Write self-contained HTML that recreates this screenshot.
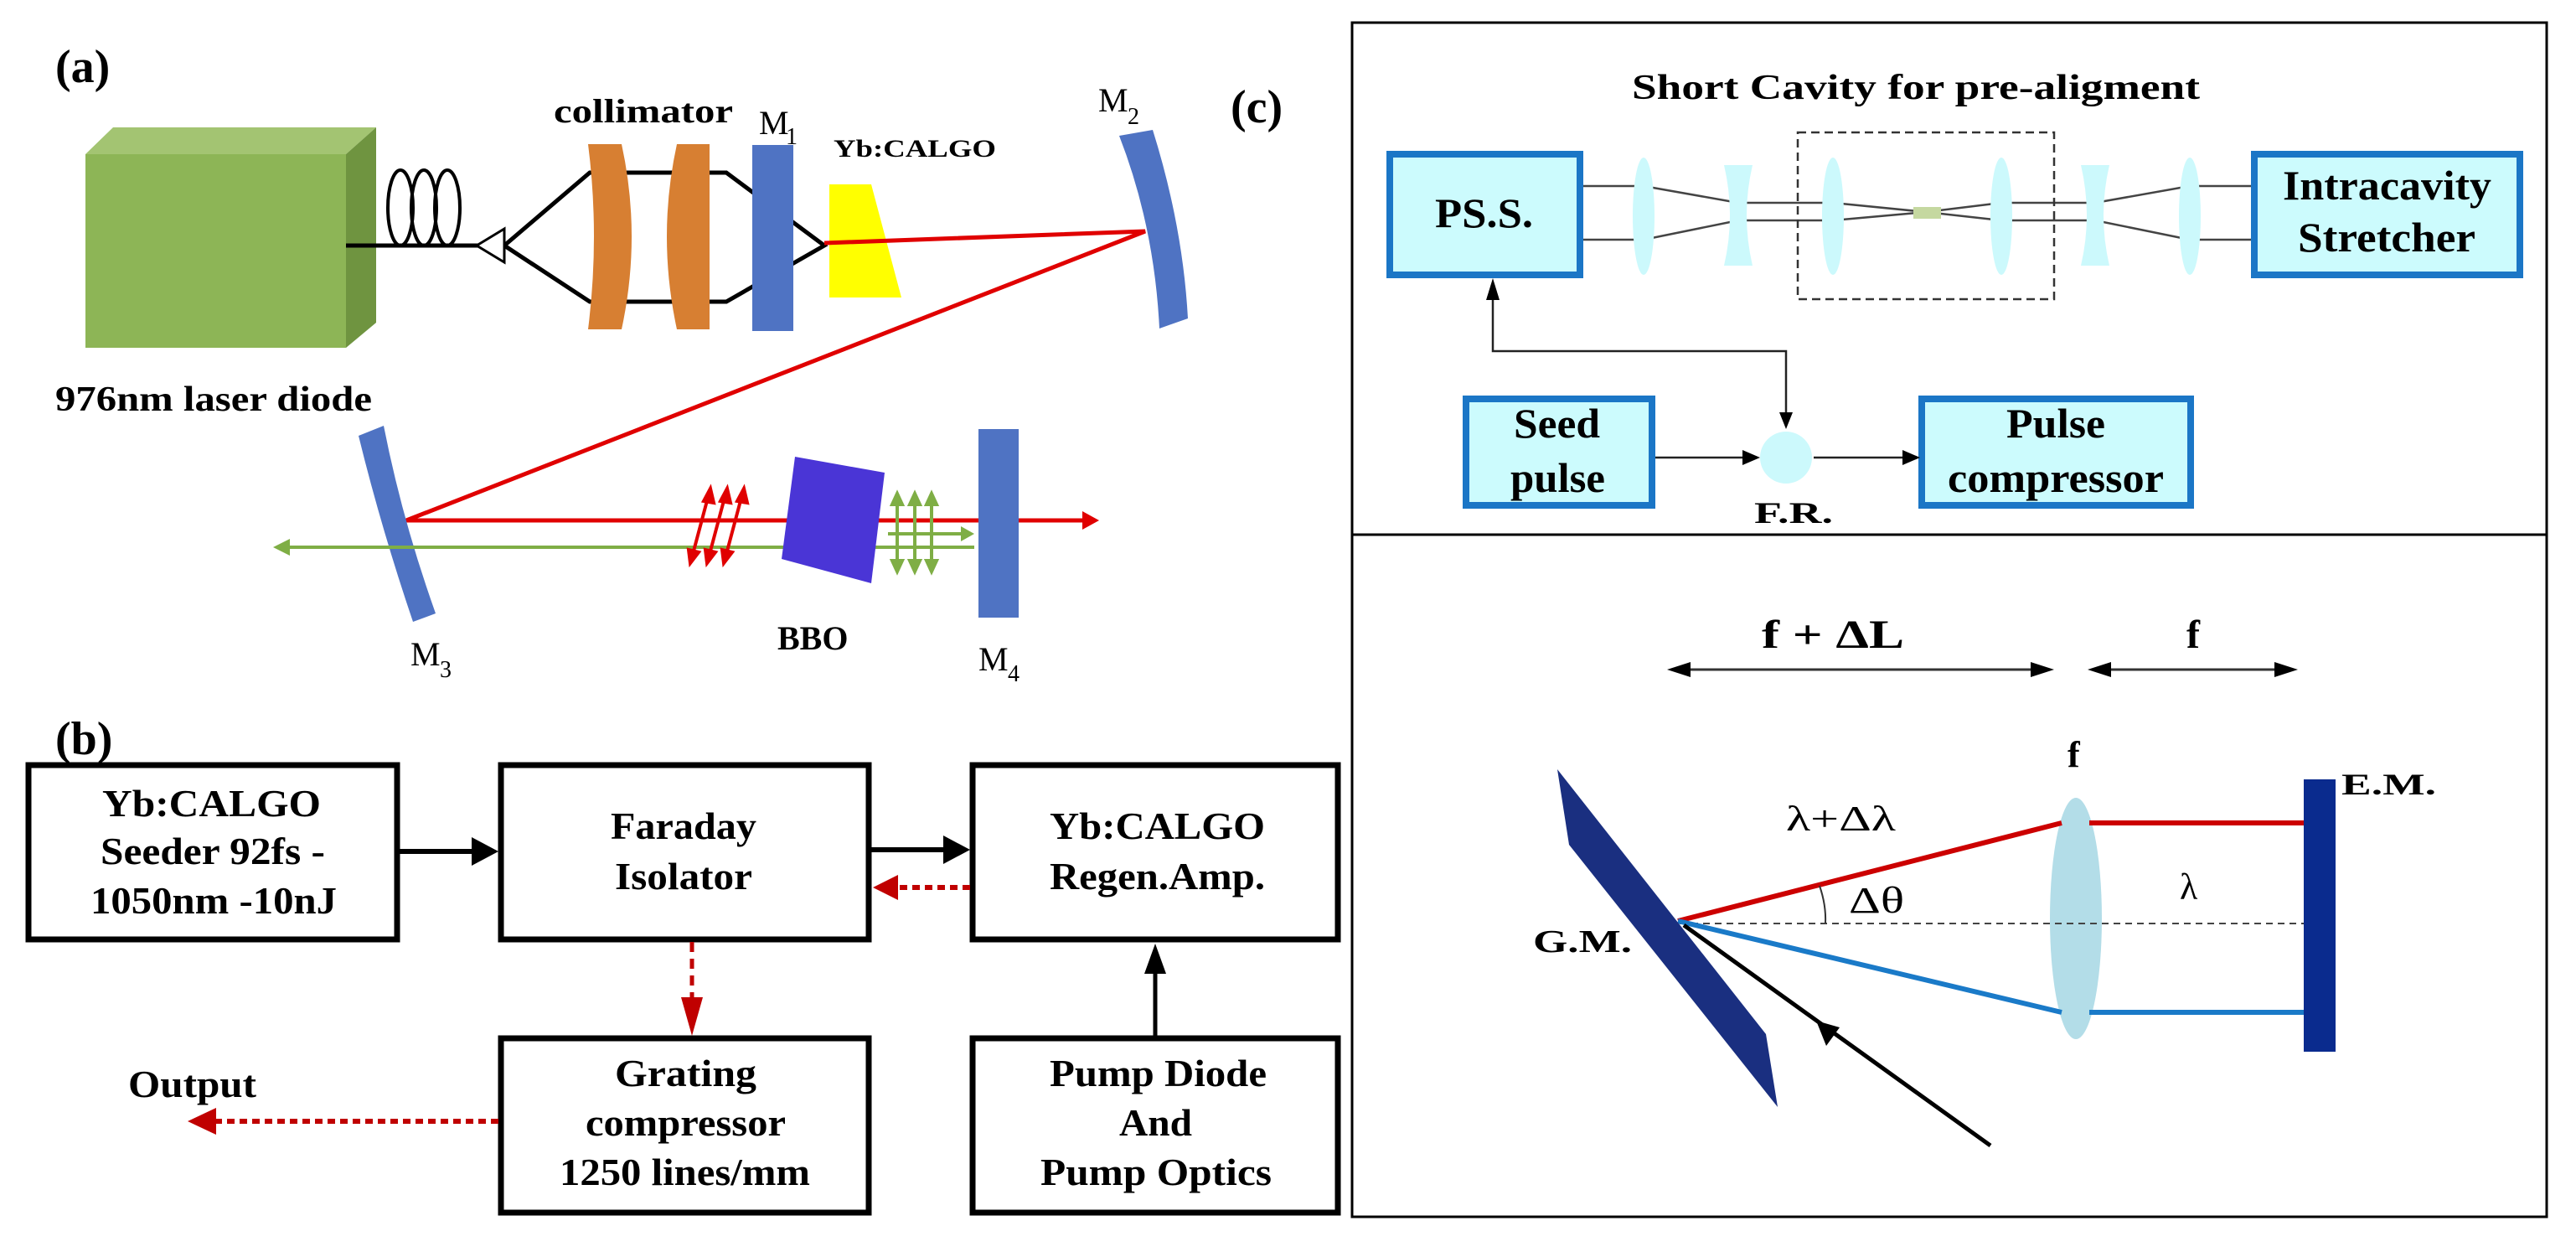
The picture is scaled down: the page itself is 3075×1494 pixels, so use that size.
<!DOCTYPE html>
<html><head><meta charset="utf-8"><style>
html,body{margin:0;padding:0;background:#fff;}
svg{display:block;}
text{font-family:"Liberation Serif",serif;font-weight:bold;fill:#000;}
</style></head><body>
<svg width="3075" height="1494" viewBox="0 0 3075 1494" xmlns="http://www.w3.org/2000/svg">
<rect width="3075" height="1494" fill="#fff"/>

<!-- ===== (a) ===== -->
<text x="66" y="98" font-size="56">(a)</text>
<!-- green block -->
<polygon points="102,184 135,152 449,152 413,184" fill="#a3c472"/>
<polygon points="413,184 449,152 449,385 413,415" fill="#6f9440"/>
<rect x="102" y="184" width="311" height="231" fill="#8db556"/>
<text x="66" y="490" font-size="42" textLength="378" lengthAdjust="spacingAndGlyphs">976nm laser diode</text>
<!-- fiber + coils -->
<line x1="413" y1="293" x2="571" y2="293" stroke="#000" stroke-width="5"/>
<ellipse cx="478" cy="248" rx="15" ry="45" fill="none" stroke="#000" stroke-width="4"/>
<ellipse cx="506" cy="248" rx="15" ry="45" fill="none" stroke="#000" stroke-width="4"/>
<ellipse cx="534" cy="248" rx="15" ry="45" fill="none" stroke="#000" stroke-width="4"/>
<polygon points="569,293 602,273 602,313" fill="#fff" stroke="#000" stroke-width="3"/>
<!-- collimated beam -->
<polyline points="602,293 704,206 867,206 984,293 867,360 704,360 602,293" fill="none" stroke="#000" stroke-width="5"/>
<!-- lenses -->
<path d="M702,172 L742,172 Q766,282 742,393 L702,393 Q716,282 702,172 Z" fill="#d77f32"/>
<path d="M808,172 L847,172 L847,393 L808,393 Q784,282 808,172 Z" fill="#d77f32"/>
<rect x="898" y="173" width="49" height="222" fill="#4f73c3"/>
<text x="661" y="146" font-size="40" textLength="214" lengthAdjust="spacingAndGlyphs">collimator</text>
<text x="906" y="160" font-size="40" font-weight="normal" style="font-weight:normal">M</text>
<text x="938" y="172" font-size="28" style="font-weight:normal">1</text>
<text x="995" y="187" font-size="30" textLength="194" lengthAdjust="spacingAndGlyphs">Yb:CALGO</text>
<polygon points="990,220 1040,220 1076,355 990,355" fill="#ffff00"/>
<!-- red beams -->
<polyline points="984,290 1367,276 485,621 1300,621" fill="none" stroke="#e00000" stroke-width="5"/>
<polygon points="1312,621 1292,610 1292,632" fill="#e00000"/>
<!-- M2 -->
<path d="M1336,162 L1376,155 Q1412,270 1418,380 L1384,392 Q1378,270 1336,162 Z" fill="#4f73c3"/>
<text x="1311" y="133" font-size="40" style="font-weight:normal">M</text>
<text x="1346" y="148" font-size="28" style="font-weight:normal">2</text>
<!-- M3 -->
<path d="M428,520 L458,508 Q480,620 520,732 L493,742 Q455,630 428,520 Z" fill="#4f73c3"/>
<text x="490" y="794" font-size="40" style="font-weight:normal">M</text>
<text x="525" y="808" font-size="28" style="font-weight:normal">3</text>
<!-- green line -->
<line x1="336" y1="653" x2="1163" y2="653" stroke="#7fae45" stroke-width="4"/>
<polygon points="326,653 346,643 346,663" fill="#7fae45"/>
<line x1="1060" y1="637" x2="1155" y2="637" stroke="#7fae45" stroke-width="4"/>
<polygon points="1163,637 1147,628 1147,646" fill="#7fae45"/>
<!-- red polarization arrows -->
<g stroke="#e00000" stroke-width="4" fill="#e00000">
<line x1="826" y1="665" x2="846" y2="590"/><line x1="846" y1="665" x2="866" y2="590"/><line x1="866" y1="665" x2="886" y2="590"/>
<polygon points="848,583 840,598 852,600"/><polygon points="868,583 860,598 872,600"/><polygon points="888,583 880,598 892,600"/>
<polygon points="824,672 822,656 834,659"/><polygon points="844,672 842,656 854,659"/><polygon points="864,672 862,656 874,659"/>
</g>
<!-- BBO -->
<polygon points="949,545 1056,564 1040,696 933,667" fill="#4a35d6"/>
<text x="928" y="775" font-size="40">BBO</text>
<!-- green vertical double arrows -->
<g stroke="#7fae45" stroke-width="4" fill="#7fae45">
<line x1="1071" y1="596" x2="1071" y2="675"/><line x1="1092" y1="596" x2="1092" y2="675"/><line x1="1112" y1="596" x2="1112" y2="675"/>
<polygon points="1071,589 1065,602 1077,602"/><polygon points="1092,589 1086,602 1098,602"/><polygon points="1112,589 1106,602 1118,602"/>
<polygon points="1071,682 1065,669 1077,669"/><polygon points="1092,682 1086,669 1098,669"/><polygon points="1112,682 1106,669 1118,669"/>
</g>
<rect x="1168" y="512" width="48" height="225" fill="#4f73c3"/>
<text x="1168" y="800" font-size="40" style="font-weight:normal">M</text>
<text x="1203" y="813" font-size="28" style="font-weight:normal">4</text>

<!-- ===== (b) ===== -->
<text x="66" y="900" font-size="56">(b)</text>
<g fill="#fff" stroke="#000" stroke-width="7">
<rect x="34" y="913" width="440" height="208"/>
<rect x="598" y="913" width="439" height="208"/>
<rect x="1161" y="913" width="436" height="208"/>
<rect x="598" y="1239" width="439" height="208"/>
<rect x="1161" y="1239" width="436" height="208"/>
</g>
<g font-size="46">
<text x="122" y="974" textLength="261" lengthAdjust="spacingAndGlyphs">Yb:CALGO</text>
<text x="120" y="1031" textLength="268" lengthAdjust="spacingAndGlyphs">Seeder 92fs -</text>
<text x="108" y="1090" textLength="294" lengthAdjust="spacingAndGlyphs">1050nm -10nJ</text>
<text x="729" y="1001" textLength="174" lengthAdjust="spacingAndGlyphs">Faraday</text>
<text x="734" y="1061" textLength="164" lengthAdjust="spacingAndGlyphs">Isolator</text>
<text x="1253" y="1001" textLength="257" lengthAdjust="spacingAndGlyphs">Yb:CALGO</text>
<text x="1253" y="1061" textLength="257" lengthAdjust="spacingAndGlyphs">Regen.Amp.</text>
<text x="734" y="1296" textLength="169" lengthAdjust="spacingAndGlyphs">Grating</text>
<text x="699" y="1355" textLength="239" lengthAdjust="spacingAndGlyphs">compressor</text>
<text x="668" y="1414" textLength="299" lengthAdjust="spacingAndGlyphs">1250 lines/mm</text>
<text x="1253" y="1296" textLength="259" lengthAdjust="spacingAndGlyphs">Pump Diode</text>
<text x="1336" y="1355" textLength="87" lengthAdjust="spacingAndGlyphs">And</text>
<text x="1242" y="1414" textLength="276" lengthAdjust="spacingAndGlyphs">Pump Optics</text>
<text x="153" y="1309" textLength="153" lengthAdjust="spacingAndGlyphs">Output</text>
</g>
<!-- arrows b -->
<line x1="477" y1="1016" x2="566" y2="1016" stroke="#000" stroke-width="6"/>
<polygon points="595,1016 563,999 563,1033" fill="#000"/>
<line x1="1040" y1="1014" x2="1130" y2="1014" stroke="#000" stroke-width="6"/>
<polygon points="1158,1014 1126,997 1126,1031" fill="#000"/>
<line x1="1158" y1="1059" x2="1072" y2="1059" stroke="#c00000" stroke-width="6" stroke-dasharray="9,6"/>
<polygon points="1042,1059 1072,1044 1072,1074" fill="#c00000"/>
<line x1="826" y1="1124" x2="826" y2="1190" stroke="#c00000" stroke-width="5" stroke-dasharray="12,8"/>
<polygon points="826,1236 813,1190 839,1190" fill="#c00000"/>
<line x1="1379" y1="1236" x2="1379" y2="1160" stroke="#000" stroke-width="5"/>
<polygon points="1379,1126 1366,1162 1392,1162" fill="#000"/>
<line x1="595" y1="1338" x2="258" y2="1338" stroke="#c00000" stroke-width="6" stroke-dasharray="9,6"/>
<polygon points="224,1338 258,1322 258,1354" fill="#c00000"/>

<!-- ===== (c) ===== -->
<text x="1469" y="146" font-size="56">(c)</text>
<rect x="1614" y="27" width="1426" height="1425" fill="none" stroke="#000" stroke-width="3"/>
<line x1="1614" y1="638" x2="3040" y2="638" stroke="#000" stroke-width="3"/>
<text x="1948" y="118" font-size="42" textLength="678" lengthAdjust="spacingAndGlyphs">Short Cavity for pre-aligment</text>
<!-- beams -->
<g stroke="#444" stroke-width="2.5" fill="none">
<polyline points="1890,222 1962,222 2075,242 2188,242 2299,253 2389,242 2501,242 2614,222 2687,222"/>
<polyline points="1890,286 1962,286 2075,263 2188,263 2299,253 2389,263 2501,263 2614,286 2687,286"/>
</g>
<!-- lenses c -->
<g fill="#ccf9fc">
<ellipse cx="1962" cy="258" rx="13" ry="70"/>
<ellipse cx="2188" cy="258" rx="13" ry="70"/>
<ellipse cx="2389" cy="258" rx="13" ry="70"/>
<ellipse cx="2614" cy="258" rx="13" ry="70"/>
<path d="M2058,197 L2092,197 Q2078,257 2092,317 L2058,317 Q2072,257 2058,197 Z"/>
<path d="M2484,197 L2518,197 Q2504,257 2518,317 L2484,317 Q2498,257 2484,197 Z"/>
</g>
<rect x="2284" y="247" width="33" height="14" fill="#c5d8a0"/>
<rect x="2146" y="158" width="306" height="199" fill="none" stroke="#333" stroke-width="2.5" stroke-dasharray="10,6"/>
<g fill="#ccfbfd" stroke="#1b76c6" stroke-width="8">
<rect x="1659" y="184" width="227" height="144"/>
<rect x="2691" y="184" width="317" height="144"/>
<rect x="1750" y="476" width="222" height="127"/>
<rect x="2294" y="476" width="321" height="127"/>
</g>
<g font-size="50">
<text x="1713" y="271" textLength="117" lengthAdjust="spacingAndGlyphs">PS.S.</text>
<text x="2725" y="238" textLength="249" lengthAdjust="spacingAndGlyphs">Intracavity</text>
<text x="2743" y="300" textLength="212" lengthAdjust="spacingAndGlyphs">Stretcher</text>
<text x="1807" y="522" textLength="103" lengthAdjust="spacingAndGlyphs">Seed</text>
<text x="1803" y="587" textLength="113" lengthAdjust="spacingAndGlyphs">pulse</text>
<text x="2395" y="522" textLength="118" lengthAdjust="spacingAndGlyphs">Pulse</text>
<text x="2325" y="587" textLength="258" lengthAdjust="spacingAndGlyphs">compressor</text>
</g>
<ellipse cx="2132" cy="546" rx="31" ry="31" fill="#ccf9fc"/>
<text x="2094" y="624" font-size="36" textLength="94" lengthAdjust="spacingAndGlyphs">F.R.</text>
<g stroke="#222" stroke-width="2.5" fill="none">
<polyline points="1782,352 1782,419 2132,419 2132,495"/>
<line x1="1976" y1="546" x2="2085" y2="546"/>
<line x1="2165" y1="546" x2="2275" y2="546"/>
</g>
<polygon points="1782,332 1774,358 1790,358" fill="#000"/>
<polygon points="2132,512 2124,492 2140,492" fill="#000"/>
<polygon points="2101,546 2080,537 2080,555" fill="#000"/>
<polygon points="2292,546 2271,537 2271,555" fill="#000"/>

<!-- lower panel -->
<text x="2103" y="773" font-size="48" textLength="170" lengthAdjust="spacingAndGlyphs">f +  ΔL</text>
<text x="2610" y="773" font-size="48">f</text>
<g stroke="#333" stroke-width="3">
<line x1="2005" y1="799" x2="2437" y2="799"/>
<line x1="2507" y1="799" x2="2728" y2="799"/>
</g>
<g fill="#000">
<polygon points="1990,799 2018,790 2018,808"/><polygon points="2452,799 2424,790 2424,808"/>
<polygon points="2492,799 2520,790 2520,808"/><polygon points="2743,799 2715,790 2715,808"/>
</g>
<ellipse cx="2478" cy="1096" rx="31" ry="144" fill="#b3dde8"/>
<text x="2468" y="915" font-size="44">f</text>
<line x1="2005" y1="1102" x2="2750" y2="1102" stroke="#444" stroke-width="2" stroke-dasharray="8,6"/>
<polyline points="2003,1099 2461,982" stroke="#cc0000" stroke-width="6" fill="none"/>
<line x1="2494" y1="982" x2="2750" y2="982" stroke="#cc0000" stroke-width="6"/>
<polyline points="2003,1099 2461,1208" stroke="#1a7ac8" stroke-width="6" fill="none"/>
<line x1="2494" y1="1208" x2="2750" y2="1208" stroke="#1a7ac8" stroke-width="6"/>
<path d="M2172,1057 Q2180,1080 2179,1102" fill="none" stroke="#333" stroke-width="2"/>
<rect x="2750" y="930" width="38" height="325" fill="#0a2b8e"/>
<text x="2795" y="948" font-size="36" textLength="113" lengthAdjust="spacingAndGlyphs">E.M.</text>
<text x="2132" y="991" font-size="42" style="font-weight:normal" textLength="131" lengthAdjust="spacingAndGlyphs">λ+Δλ</text>
<text x="2207" y="1089" font-size="44" style="font-weight:normal" textLength="66" lengthAdjust="spacingAndGlyphs">Δθ</text>
<text x="2602" y="1073" font-size="44" style="font-weight:normal">λ</text>
<polygon points="1859,918 2108,1234 2122,1321 1873,1008" fill="#1a2f80"/>
<text x="1830" y="1136" font-size="38" textLength="118" lengthAdjust="spacingAndGlyphs">G.M.</text>
<line x1="2376" y1="1367" x2="2010" y2="1104" stroke="#000" stroke-width="5"/>
<polygon points="2168,1218 2196,1226 2180,1248" fill="#000"/>
</svg>
</body></html>
